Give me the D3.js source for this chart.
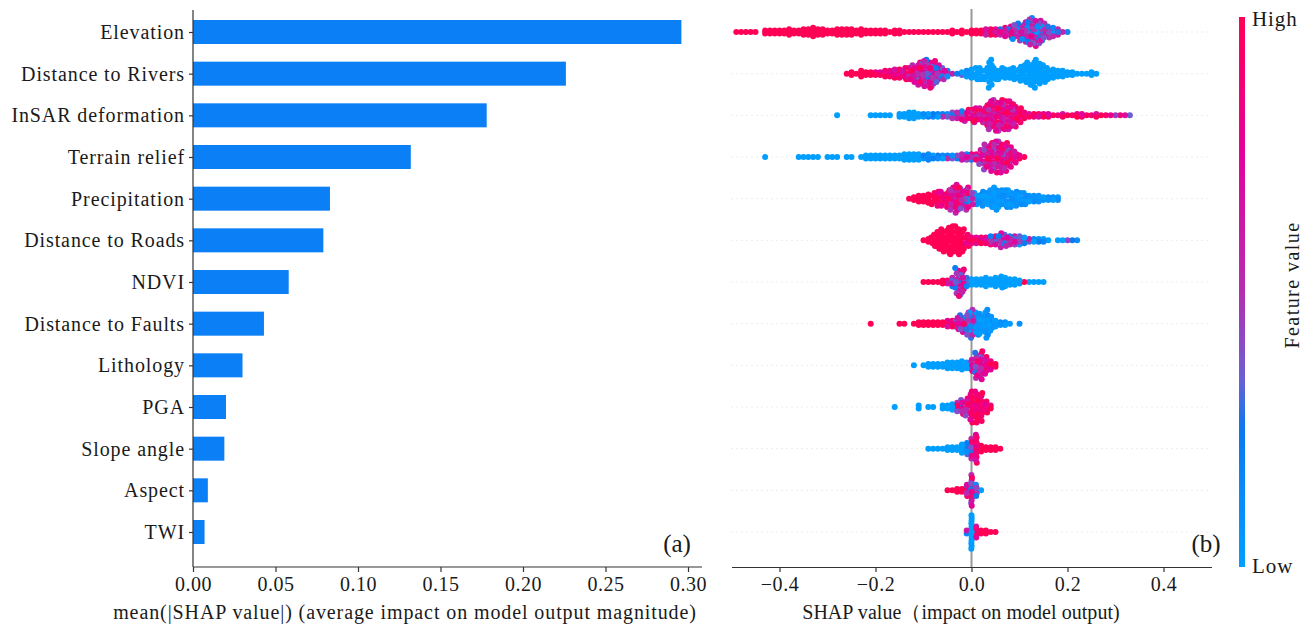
<!DOCTYPE html>
<html>
<head>
<meta charset="utf-8">
<script src="https://cdn.jsdelivr.net/npm/d3@7"></script>
<style>
  html, body { margin: 0; background: #fff; }
  text { font-family: "Liberation Serif", serif; fill: #1a1a1a; }
</style>
</head>
<body>
<svg id="chart" width="1307" height="635"></svg>
<script>
const features = ["Elevation", "Distance to Rivers", "InSAR deformation", "Terrain relief", "Precipitation",
  "Distance to Roads", "NDVI", "Distance to Faults", "Lithology", "PGA", "Slope angle", "Aspect", "TWI"];
const meanShap = [0.296, 0.226, 0.178, 0.132, 0.083, 0.079, 0.058, 0.043, 0.030, 0.020, 0.019, 0.009, 0.007];
const barTicks = [0, 0.05, 0.10, 0.15, 0.20, 0.25, 0.30];
const swarmTicks = [-0.4, -0.2, 0, 0.2, 0.4];

// swarm columns: one column per 0.01 of SHAP value, number = dots stacked there
const elevationStart = -0.5;
const elevationCounts = [
  0,1,1,1,1,1,0,2,2,2,
  2,2,3,2,2,3,3,4,3,3,
  2,2,3,3,3,3,2,3,2,2,
  2,2,2,1,2,2,1,1,1,1,
  1,1,1,1,1,1,2,1,2,1,
  2,2,2,3,3,3,3,4,5,6,
  7,8,10,11,9,7,5,4,3,1,
  1];
const elevationHigh = [[-0.5,1],[0.03,0.8],[0.06,0.6],[0.09,0.45],[0.14,0.35],[0.19,0.5]];

const riversStart = -0.3;
const riversCounts = [
  0,0,0,0,1,2,1,3,2,2,
  2,2,3,3,4,4,5,5,7,9,
  10,11,10,7,5,3,1,1,2,3,
  4,5,5,5,11,5,5,4,4,5,
  6,7,9,11,8,7,5,4,3,3,
  2,2,1,1,1,2,1];
const riversHigh = [[-0.3,1],[-0.2,0.85],[-0.13,0.7],[-0.1,0.55],[-0.06,0.4],[-0.03,0.2],[-0.01,0.05],[0,0]];

const insarStart = -0.3;
const insarCounts = [
  0,0,1,0,0,0,0,0,0,1,
  1,1,1,1,0,2,2,3,3,2,
  2,2,2,2,2,2,3,3,4,5,
  5,6,6,8,11,12,12,11,11,9,
  6,3,2,2,2,2,2,1,1,2,
  1,1,2,2,1,1,2,1,1,1,
  1,1,1,1];
const insarHigh = [[-0.3,0],[-0.1,0.1],[-0.06,0.25],[-0.03,0.5],[-0.01,0.8],[0.03,0.75],[0.1,0.85],[0.3,0.65]];

const reliefStart = -0.5;
const reliefCounts = [
  0,0,0,0,0,0,0,1,0,0,
  0,0,0,0,1,1,1,1,1,0,
  1,1,1,0,1,1,0,1,2,2,
  2,2,2,2,2,2,3,3,3,3,
  2,3,2,2,2,2,2,2,3,3,
  3,3,6,10,11,12,12,11,8,5,
  2,1];
const reliefHigh = [[-0.5,0],[-0.1,0.1],[-0.05,0.25],[-0.02,0.5],[0.01,0.7],[0.1,0.9]];

const precipStart = -0.2;
const precipCounts = [
  0,0,0,0,0,0,0,1,2,3,
  3,4,5,6,6,7,9,11,8,9,
  5,5,6,5,7,9,7,7,7,6,
  5,5,3,3,3,2,2,2,2];
const precipHigh = [[-0.2,1],[-0.07,0.9],[-0.04,0.75],[-0.02,0.6],[-0.005,0.4],[0.01,0.05]];

const roadsStart = -0.1;
const roadsCounts = [
  1,2,5,7,9,10,11,11,9,5,
  3,3,3,3,4,4,6,5,4,4,
  4,3,2,2,2,2,1,0,1,1,
  1,1,1];
const roadsHigh = [[-0.2,1],[-0.01,0.85],[0.02,0.8],[0.04,0.55],[0.07,0.4],[0.1,0.3],[0.13,0.1],[0.16,0],[0.2,0.3]];

const ndviStart = -0.1;
const ndviCounts = [
  1,1,1,1,2,2,4,11,10,4,
  3,3,3,4,3,4,5,4,3,3,
  2,1,1,1,1,1];
const ndviHigh = [[-0.2,1],[-0.05,0.7],[-0.04,0.55],[-0.01,0.2],[0,0],[0.105,1],[0.115,0]];

const faultsStart = -0.3;
const faultsCounts = [
  0,0,0,0,0,0,0,0,0,1,
  0,0,0,0,0,1,1,0,1,2,
  2,2,2,2,2,3,3,5,7,9,
  11,9,8,11,6,3,2,2,1,0,
  1];
const faultsHigh = [[-0.3,1],[-0.05,0.85],[-0.03,0.6],[-0.01,0.35],[0.005,0.05]];

const lithologyStart = -0.2;
const lithologyCounts = [
  0,0,0,0,0,0,0,0,1,0,
  1,2,2,2,2,3,3,3,4,3,
  5,10,11,7,4,2];
const lithologyHigh = [[-0.3,0],[-0.005,0.6],[0.03,0.85],[0.05,1]];

const pgaStart = -0.2;
const pgaCounts = [
  0,0,0,0,1,0,0,0,0,2,
  0,1,1,0,2,2,3,4,6,7,
  12,12,11,5,2];
const pgaHigh = [[-0.3,0],[-0.035,0.2],[-0.03,0.6],[-0.01,0.7],[0,0.9]];

const slopeStart = -0.1;
const slopeCounts = [
  0,1,1,1,1,2,2,2,4,5,
  8,11,3,2,2,2,1];
const slopeHigh = [[-0.2,0],[-0.015,0.15],[-0.002,0.6],[0.005,0.85],[0.02,1]];

const aspectStart = -0.1;
const aspectCounts = [
  0,0,0,0,0,1,1,2,2,5,
  12,5,1];
const aspectHigh = [[-0.2,1],[-0.01,0.6],[0.01,0.3],[0.015,0]];

const twiStart = -0.1;
const twiCounts = [
  0,0,0,0,0,0,0,0,0,2,
  13,5,2,2,1,1];
const twiHigh = [[-0.2,0.5],[0,0],[0.008,0.8],[0.015,1]];

const swarmStarts = [elevationStart, riversStart, insarStart, reliefStart, precipStart, roadsStart, ndviStart,
  faultsStart, lithologyStart, pgaStart, slopeStart, aspectStart, twiStart];
const swarmCounts = [elevationCounts, riversCounts, insarCounts, reliefCounts, precipCounts, roadsCounts, ndviCounts,
  faultsCounts, lithologyCounts, pgaCounts, slopeCounts, aspectCounts, twiCounts];
const swarmHigh = [elevationHigh, riversHigh, insarHigh, reliefHigh, precipHigh, roadsHigh, ndviHigh,
  faultsHigh, lithologyHigh, pgaHigh, slopeHigh, aspectHigh, twiHigh];

// fixed cycles that break up the column grid and mix the colours inside a column
const mixCycle = [-0.45, 0.3, -0.1, 0.45, 0.05, -0.3, 0.2];
const nudgeCycle = [-0.004, 0.003, -0.001, 0.004, 0.001, -0.003, 0.002];
// the lower rows have much narrower columns
const nudgeScale = [1, 1, 1, 1, 1, 1, 1, 1, 0.6, 0.6, 0.3, 0.25, 0.1];

const svg = d3.select("#chart");
const axisY = 567;
const fontSize = 20;

const y = d3.scalePoint().domain(features).range([32, 532]);
const xBar = d3.scaleLinear().domain([0, 0.30]).range([193, 688]);
const xSwarm = d3.scaleLinear().domain([-0.5, 0.5]).range([731.5, 1211.5]);
const color = d3.scaleLinear()
  .domain([0, 0.12, 0.25, 0.34, 0.5, 0.76, 1])
  .range(["#009fff", "#0a8bfb", "#0a78f0", "#6a60d5", "#b52eb0", "#e5009a", "#ff0055"]);

function styleAxis(g, spacing) {
  g.selectAll("text").style("font-size", fontSize + "px").style("letter-spacing", spacing).attr("fill", "#1a1a1a");
  g.selectAll("line, path").attr("stroke", "#333").attr("stroke-width", 1.2);
}

function drawBars() {
  const g = svg.append("g");
  g.selectAll("rect")
    .data(features)
    .join("rect")
    .attr("x", xBar(0))
    .attr("y", d => y(d) - 12)
    .attr("width", (d, i) => xBar(meanShap[i]) - xBar(0))
    .attr("height", 24)
    .attr("fill", "#0a7ff6");

  const bottom = svg.append("g").attr("transform", `translate(0,${axisY})`)
    .call(d3.axisBottom(xBar).tickValues(barTicks).tickFormat(d3.format(".2f")).tickSize(5).tickSizeOuter(0).tickPadding(5));
  bottom.select(".domain").attr("d", `M${xBar(0)},0H702`);
  styleAxis(bottom, "0.55px");

  const left = svg.append("g").attr("transform", `translate(${xBar(0)},0)`)
    .call(d3.axisLeft(y).tickSize(4).tickPadding(4));
  left.select(".domain").attr("d", `M0,10V${axisY}`);
  styleAxis(left, "0.9px");

  svg.append("text").attr("x", 405).attr("y", 619).attr("text-anchor", "middle")
    .style("font-size", "20px").style("letter-spacing", "0.9px")
    .text("mean(|SHAP value|) (average impact on model output magnitude)");
  svg.append("text").attr("x", 677).attr("y", 552).attr("text-anchor", "middle")
    .style("font-size", "25px").text("(a)");
}

function drawSwarm() {
  const step = 2.8;
  svg.append("g").selectAll("line")
    .data(features)
    .join("line")
    .attr("x1", xSwarm(-0.5)).attr("x2", xSwarm(0.5))
    .attr("y1", d => y(d)).attr("y2", d => y(d))
    .attr("stroke", "#ccc").attr("stroke-width", 0.7).attr("stroke-dasharray", "1,4");

  svg.append("line").attr("x1", xSwarm(0)).attr("x2", xSwarm(0)).attr("y1", 9).attr("y2", axisY)
    .attr("stroke", "#999").attr("stroke-width", 2);

  features.forEach((name, row) => {
    const dots = [];
    swarmCounts[row].forEach((count, col) => {
      const shap = swarmStarts[row] + col * 0.01;
      const share = swarmHigh[row].filter(seg => seg[0] <= shap + 1e-6).pop()[1];
      for (let k = 0; k < count; k++) {
        const turn = (k + col * 3) % mixCycle.length;
        const value = share + mixCycle[turn] * 3 * share * (1 - share);
        dots.push({
          // thin columns stay where they were read, tall ones get spread a little
          shap: count > 4 ? shap + nudgeCycle[turn] * nudgeScale[row] : shap,
          offset: (k - (count - 1) / 2) * step,
          value: Math.max(0, Math.min(1, value)),
          order: (k * 5 + col * 11) % 13
        });
      }
    });
    svg.append("g").selectAll("circle")
      .data(dots.sort((a, b) => a.order - b.order))
      .join("circle")
      .attr("cx", d => xSwarm(d.shap))
      .attr("cy", d => y(name) + d.offset)
      .attr("r", 3)
      .attr("fill", d => color(d.value));
  });

  const bottom = svg.append("g").attr("transform", `translate(0,${axisY})`)
    .call(d3.axisBottom(xSwarm).tickValues(swarmTicks).tickFormat(d3.format(".1f")).tickSize(5).tickSizeOuter(0).tickPadding(5));
  styleAxis(bottom, "0.55px");

  svg.append("text").attr("x", 961).attr("y", 619).attr("text-anchor", "middle")
    .style("font-size", "20px").style("letter-spacing", "0.05px")
    .text("SHAP value（impact on model output)");
  svg.append("text").attr("x", 1206).attr("y", 552).attr("text-anchor", "middle")
    .style("font-size", "25px").text("(b)");
}

function drawColorbar() {
  const defs = svg.append("defs");
  const grad = defs.append("linearGradient").attr("id", "featureRamp")
    .attr("x1", 0).attr("y1", 1).attr("x2", 0).attr("y2", 0);
  d3.range(0, 1.01, 0.02).forEach(t => grad.append("stop").attr("offset", t).attr("stop-color", color(t)));
  const barY = d3.scaleLinear().domain([0, 1]).range([567, 17]);
  svg.append("rect").attr("x", 1239).attr("width", 6)
    .attr("y", barY(1)).attr("height", barY(0) - barY(1))
    .attr("fill", "url(#featureRamp)");
  svg.append("text").attr("x", 1252).attr("y", 26).style("font-size", "21px").style("letter-spacing", "0.9px").text("High");
  svg.append("text").attr("x", 1252).attr("y", 573).style("font-size", "21px").style("letter-spacing", "0.9px").text("Low");
  svg.append("text").attr("transform", "translate(1299,285) rotate(-90)").attr("text-anchor", "middle")
    .style("font-size", fontSize + "px").style("letter-spacing", "1.45px").text("Feature value");
}

drawBars();
drawSwarm();
drawColorbar();
</script>
</body>
</html>
